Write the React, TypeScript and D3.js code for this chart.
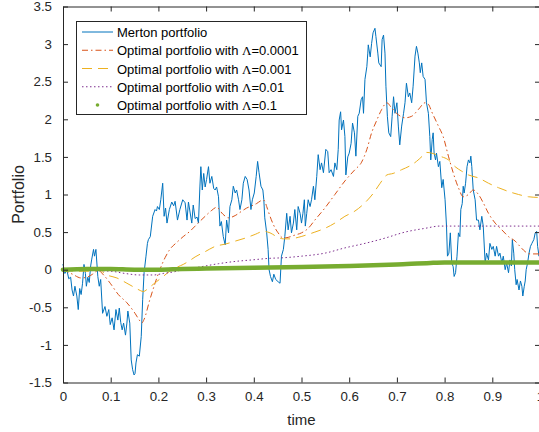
import { useEffect, useRef } from 'react';
import * as d3 from 'd3';

type Pt = [number, number];

// Merton portfolio (noisy path) as [time, value]
const merton: Pt[] = [
  [0.0, 0.07], [0.004, -0.05], [0.008, 0.0], [0.012, -0.12], [0.016, -0.1], [0.019, -0.27],
  [0.022, -0.35], [0.025, -0.22], [0.029, -0.35], [0.032, -0.53], [0.035, -0.25], [0.038, -0.33],
  [0.041, -0.18], [0.044, 0.07], [0.047, -0.05], [0.049, -0.22], [0.052, -0.1], [0.055, -0.17],
  [0.058, 0.05], [0.06, 0.13], [0.064, 0.27], [0.066, 0.18], [0.069, 0.27], [0.073, -0.09],
  [0.076, -0.22], [0.079, -0.13], [0.083, -0.58], [0.088, -0.49], [0.092, -0.62], [0.096, -0.53],
  [0.099, -0.73], [0.103, -0.64], [0.107, -0.8], [0.111, -0.53], [0.115, -0.67], [0.118, -0.51],
  [0.121, -0.7], [0.124, -0.8], [0.127, -0.71], [0.131, -0.87], [0.134, -0.71], [0.136, -0.55],
  [0.14, -0.71], [0.143, -1.2], [0.146, -1.33], [0.149, -1.4], [0.151, -1.38], [0.153, -1.24],
  [0.156, -1.13], [0.16, -1.15], [0.164, -0.89], [0.167, -0.4], [0.17, -0.04], [0.174, 0.18],
  [0.177, 0.35], [0.179, 0.4], [0.183, 0.44], [0.188, 0.71], [0.193, 0.8], [0.196, 0.78],
  [0.198, 0.84], [0.202, 0.8], [0.205, 0.93], [0.209, 1.15], [0.212, 0.71], [0.215, 0.82],
  [0.218, 0.62], [0.223, 0.8], [0.228, 0.9], [0.232, 0.85], [0.235, 0.91], [0.24, 0.66],
  [0.245, 0.8], [0.251, 0.93], [0.256, 0.89], [0.26, 0.66], [0.263, 0.9], [0.27, 0.62],
  [0.273, 0.86], [0.277, 0.68], [0.281, 0.7], [0.284, 0.62], [0.287, 1.1], [0.289, 1.37],
  [0.292, 1.06], [0.295, 1.28], [0.298, 1.1], [0.301, 1.2], [0.305, 1.37], [0.308, 1.15],
  [0.312, 1.24], [0.316, 1.08], [0.319, 1.06], [0.322, 1.1], [0.326, 0.97], [0.329, 0.58],
  [0.332, 0.64], [0.336, 0.44], [0.34, 0.33], [0.343, 0.66], [0.347, 0.49], [0.35, 0.84],
  [0.354, 0.93], [0.357, 1.11], [0.361, 1.02], [0.364, 1.06], [0.368, 0.93], [0.371, 0.8],
  [0.375, 0.93], [0.378, 1.15], [0.382, 1.24], [0.386, 1.2], [0.39, 1.06], [0.394, 0.8],
  [0.397, 0.93], [0.401, 1.02], [0.405, 1.24], [0.408, 1.44], [0.411, 1.29], [0.415, 1.11],
  [0.419, 1.06], [0.421, 0.93], [0.423, 0.69], [0.427, 0.49], [0.43, 0.27], [0.432, 0.0],
  [0.435, -0.09], [0.439, -0.16], [0.442, -0.06], [0.446, -0.13], [0.451, -0.16], [0.455, -0.18],
  [0.458, 0.18], [0.462, 0.27], [0.465, 0.44], [0.469, 0.75], [0.472, 0.53], [0.476, 0.71],
  [0.479, 0.49], [0.483, 0.62], [0.486, 0.8], [0.49, 0.53], [0.493, 0.84], [0.497, 0.75],
  [0.5, 0.62], [0.503, 0.75], [0.506, 0.93], [0.508, 0.58], [0.511, 0.75], [0.514, 0.93],
  [0.518, 0.84], [0.521, 0.93], [0.525, 1.11], [0.528, 0.93], [0.532, 1.24], [0.535, 1.53],
  [0.539, 1.33], [0.542, 1.42], [0.546, 1.29], [0.551, 1.6], [0.555, 1.57], [0.558, 1.29],
  [0.562, 1.33], [0.567, 1.24], [0.57, 1.42], [0.574, 1.33], [0.577, 1.6], [0.579, 1.99],
  [0.582, 2.1], [0.584, 1.86], [0.588, 1.99], [0.591, 1.77], [0.593, 1.26], [0.597, 1.5],
  [0.6, 1.55], [0.604, 1.68], [0.607, 1.95], [0.611, 1.82], [0.614, 1.51], [0.618, 2.04],
  [0.621, 2.08], [0.625, 2.26], [0.628, 2.3], [0.63, 2.08], [0.633, 2.53], [0.637, 2.7],
  [0.639, 2.88], [0.64, 2.99], [0.644, 2.83], [0.647, 3.01], [0.65, 3.15], [0.654, 3.21],
  [0.656, 3.1], [0.66, 2.88], [0.662, 2.75], [0.667, 2.7], [0.669, 3.06], [0.672, 3.12],
  [0.675, 2.88], [0.677, 2.44], [0.68, 2.04], [0.683, 1.82], [0.687, 1.77], [0.69, 2.04],
  [0.693, 2.3], [0.696, 2.08], [0.7, 2.22], [0.703, 1.91], [0.706, 1.66], [0.71, 1.91],
  [0.714, 2.08], [0.717, 2.22], [0.72, 2.48], [0.724, 2.3], [0.727, 2.35], [0.731, 2.22],
  [0.734, 2.44], [0.738, 2.84], [0.741, 2.97], [0.744, 2.88], [0.747, 2.75], [0.749, 2.62],
  [0.752, 2.75], [0.755, 2.57], [0.759, 2.53], [0.762, 2.22], [0.766, 2.08], [0.769, 1.77],
  [0.771, 1.46], [0.774, 1.73], [0.776, 1.82], [0.778, 1.55], [0.781, 1.46], [0.783, 1.55],
  [0.787, 1.37], [0.79, 1.44], [0.794, 1.09], [0.797, 1.2], [0.801, 0.93], [0.804, 0.58],
  [0.806, 0.18], [0.809, 0.22], [0.812, 0.49], [0.815, 0.09], [0.818, 0.04], [0.82, -0.09],
  [0.823, -0.04], [0.826, 0.18], [0.829, 0.49], [0.832, 0.44], [0.834, 0.8], [0.837, 0.88],
  [0.839, 1.11], [0.841, 1.02], [0.844, 1.15], [0.847, 1.37], [0.85, 1.46], [0.853, 1.42],
  [0.855, 1.51], [0.857, 1.37], [0.86, 1.06], [0.864, 0.93], [0.867, 0.66], [0.871, 0.66],
  [0.874, 0.53], [0.878, 0.71], [0.881, 0.58], [0.885, 0.09], [0.888, 0.22], [0.892, 0.13],
  [0.895, 0.35], [0.899, 0.27], [0.902, 0.31], [0.906, 0.18], [0.909, 0.31], [0.913, 0.18],
  [0.916, 0.22], [0.92, 0.09], [0.923, 0.18], [0.927, 0.0], [0.93, 0.09], [0.934, -0.04],
  [0.937, 0.13], [0.94, 0.05], [0.942, 0.4], [0.945, 0.22], [0.947, 0.0], [0.95, -0.2],
  [0.952, -0.13], [0.956, -0.27], [0.959, -0.15], [0.962, -0.22], [0.964, -0.35], [0.967, -0.22],
  [0.969, -0.15], [0.971, 0.0], [0.974, 0.09], [0.977, 0.22], [0.98, 0.31], [0.983, 0.35],
  [0.987, 0.4], [0.99, 0.49], [0.993, 0.51], [0.995, 0.31], [0.998, 0.18], [1.0, 0.35],
];

// Optimal portfolio, Lambda = 0.0001
const opt0001: Pt[] = [
  [0, 0], [0.02, -0.06], [0.038, -0.11], [0.05, -0.1], [0.062, -0.06], [0.074, -0.01],
  [0.085, -0.07], [0.099, -0.18], [0.116, -0.33], [0.134, -0.44], [0.151, -0.58], [0.16, -0.67],
  [0.165, -0.71], [0.17, -0.66], [0.182, -0.4], [0.193, -0.18], [0.203, 0.0], [0.214, 0.16],
  [0.224, 0.27], [0.238, 0.36], [0.252, 0.44], [0.266, 0.51], [0.277, 0.58], [0.298, 0.71],
  [0.312, 0.79], [0.322, 0.83], [0.335, 0.74], [0.347, 0.69], [0.361, 0.72], [0.375, 0.78],
  [0.385, 0.82], [0.396, 0.85], [0.406, 0.88], [0.417, 0.92], [0.422, 0.92], [0.427, 0.84],
  [0.434, 0.71], [0.441, 0.6], [0.451, 0.49], [0.462, 0.42], [0.472, 0.43], [0.486, 0.46],
  [0.5, 0.49], [0.514, 0.55], [0.528, 0.66], [0.549, 0.82], [0.57, 1.0], [0.591, 1.18],
  [0.612, 1.33], [0.626, 1.43], [0.637, 1.6], [0.647, 1.82], [0.658, 1.99], [0.668, 2.13],
  [0.679, 2.22], [0.689, 2.15], [0.703, 2.06], [0.717, 2.02], [0.731, 2.04], [0.745, 2.13],
  [0.759, 2.22], [0.766, 2.2], [0.773, 2.1], [0.787, 1.91], [0.797, 1.77], [0.808, 1.51],
  [0.818, 1.29], [0.829, 1.09], [0.839, 0.97], [0.85, 1.0], [0.86, 1.06], [0.871, 1.0],
  [0.881, 0.89], [0.892, 0.75], [0.906, 0.62], [0.92, 0.53], [0.934, 0.44], [0.948, 0.38],
  [0.958, 0.31], [0.969, 0.24], [0.979, 0.21], [1.0, 0.21],
];

// Optimal portfolio, Lambda = 0.001
const opt001: Pt[] = [
  [0, 0], [0.03, -0.02], [0.057, -0.02], [0.074, 0.0], [0.092, -0.07], [0.113, -0.11],
  [0.134, -0.18], [0.151, -0.24], [0.163, -0.28], [0.168, -0.29], [0.182, -0.23], [0.196, -0.16],
  [0.21, -0.09], [0.224, -0.02], [0.238, 0.03], [0.252, 0.07], [0.263, 0.11], [0.277, 0.17],
  [0.298, 0.24], [0.319, 0.31], [0.34, 0.34], [0.361, 0.38], [0.382, 0.42], [0.403, 0.47],
  [0.42, 0.51], [0.434, 0.49], [0.448, 0.44], [0.462, 0.41], [0.476, 0.41], [0.493, 0.43],
  [0.514, 0.47], [0.528, 0.5], [0.549, 0.55], [0.57, 0.62], [0.591, 0.71], [0.612, 0.78],
  [0.633, 0.89], [0.651, 1.02], [0.665, 1.15], [0.679, 1.26], [0.692, 1.28], [0.71, 1.33],
  [0.727, 1.38], [0.741, 1.44], [0.755, 1.52], [0.762, 1.56], [0.773, 1.55], [0.79, 1.51],
  [0.808, 1.46], [0.822, 1.37], [0.836, 1.31], [0.85, 1.26], [0.871, 1.22], [0.892, 1.15],
  [0.913, 1.09], [0.934, 1.04], [0.955, 1.0], [0.976, 0.97], [1.0, 0.96],
];

// Optimal portfolio, Lambda = 0.01
const opt01: Pt[] = [
  [0, 0], [0.05, -0.01], [0.1, -0.02], [0.13, -0.05], [0.16, -0.07], [0.19, -0.07],
  [0.21, -0.05], [0.231, -0.03], [0.252, 0.0], [0.29, 0.04], [0.326, 0.08], [0.361, 0.11],
  [0.396, 0.13], [0.43, 0.15], [0.465, 0.16], [0.5, 0.18], [0.549, 0.22], [0.591, 0.29],
  [0.633, 0.35], [0.675, 0.42], [0.717, 0.5], [0.759, 0.55], [0.79, 0.58], [0.85, 0.58],
  [0.9, 0.58], [1.0, 0.58],
];

// Optimal portfolio, Lambda = 0.1
const opt1: Pt[] = [
  [0, 0.0], [0.05, 0.01], [0.1, 0.01], [0.15, 0.0], [0.2, 0.0], [0.25, 0.01], [0.3, 0.015],
  [0.4, 0.025], [0.5, 0.035], [0.6, 0.05], [0.7, 0.07], [0.77, 0.09], [0.8, 0.095],
  [0.9, 0.097], [1.0, 0.097],
];

const legendLabels = [
  'Merton portfolio',
  'Optimal portfolio with Λ=0.0001',
  'Optimal portfolio with Λ=0.001',
  'Optimal portfolio with Λ=0.01',
  'Optimal portfolio with Λ=0.1',
];

const xTicks = [0, 0.1, 0.2, 0.3, 0.4, 0.5, 0.6, 0.7, 0.8, 0.9, 1];
const yTicks = [-1.5, -1, -0.5, 0, 0.5, 1, 1.5, 2, 2.5, 3, 3.5];

const colors = ['#0072BD', '#D95319', '#EDB120', '#7E2F8E', '#77AC30'];
const dashes = [null, '6,3,1.5,3', '10,6', '1.5,2.5', null];
const FONT = '"Liberation Sans", Arial, Helvetica, sans-serif';
const INK = '#262626';

export default function App() {
  const svgRef = useRef<SVGSVGElement>(null);

  useEffect(() => {
    if (!svgRef.current) return;
    const width = 539;
    const height = 432;
    const margin = { left: 63, right: 540, top: 6.5, bottom: 382.5 };

    d3.select(svgRef.current).selectAll('*').remove();
    const svg = d3.select(svgRef.current).attr('width', width).attr('height', height);

    const x = d3.scaleLinear().domain([0, 1]).range([margin.left, margin.right]);
    const y = d3.scaleLinear().domain([-1.5, 3.5]).range([margin.bottom, margin.top]);

    svg.append('rect').attr('width', width).attr('height', height).attr('fill', '#fff');

    // series
    const rough = d3.line<Pt>().x((d) => x(d[0])).y((d) => y(d[1]));
    const smooth = d3.line<Pt>().x((d) => x(d[0])).y((d) => y(d[1])).curve(d3.curveMonotoneX);

    const series = [merton, opt0001, opt001, opt01, opt1];
    series.forEach((s, i) => {
      const p = svg
        .append('path')
        .attr('d', (i === 0 ? rough : smooth)(s))
        .attr('fill', 'none')
        .attr('stroke', colors[i])
        .attr('stroke-width', i === 4 ? 4.5 : 1)
        .attr('stroke-linecap', 'round')
        .attr('stroke-linejoin', 'round');
      if (dashes[i]) p.attr('stroke-dasharray', dashes[i] as string).attr('stroke-linecap', 'butt');
    });

    // axes (ticks inside, box)
    const styleAxis = (g: d3.Selection<SVGGElement, unknown, null, undefined>) => {
      g.select('.domain').attr('stroke', INK);
      g.selectAll('.tick line').attr('stroke', INK);
      g.selectAll('.tick text').attr('fill', INK).style('font-family', FONT).style('font-size', '13.3px');
    };

    svg
      .append('g')
      .attr('transform', `translate(0,${margin.bottom})`)
      .call(d3.axisBottom(x).tickValues(xTicks).tickSizeInner(-5).tickSizeOuter(0).tickPadding(9.5).tickFormat((d) => String(d)))
      .call(styleAxis);
    svg
      .append('g')
      .attr('transform', `translate(0,${margin.top})`)
      .call(d3.axisTop(x).tickValues(xTicks).tickSizeInner(-5).tickSizeOuter(0).tickFormat(() => ''))
      .call(styleAxis);
    svg
      .append('g')
      .attr('transform', `translate(${margin.left},0)`)
      .call(d3.axisLeft(y).tickValues(yTicks).tickSizeInner(-5).tickSizeOuter(0).tickPadding(11).tickFormat((d) => String(d)))
      .call(styleAxis);
    svg
      .append('g')
      .attr('transform', `translate(${margin.right},0)`)
      .call(d3.axisRight(y).tickValues(yTicks).tickSizeInner(-5).tickSizeOuter(0).tickFormat(() => ''))
      .call(styleAxis);

    // axis labels
    svg
      .append('text')
      .attr('x', (margin.left + margin.right) / 2)
      .attr('y', 425)
      .attr('text-anchor', 'middle')
      .style('font-family', FONT)
      .style('font-size', '15px')
      .attr('fill', INK)
      .text('time');
    svg
      .append('text')
      .attr('transform', `translate(24,${(margin.top + margin.bottom) / 2}) rotate(-90)`)
      .attr('text-anchor', 'middle')
      .style('font-family', FONT)
      .style('font-size', '16px')
      .attr('fill', INK)
      .text('Portfolio');

    // legend
    const lg = svg.append('g');
    lg.append('rect')
      .attr('x', 76.5)
      .attr('y', 21.5)
      .attr('width', 230)
      .attr('height', 93)
      .attr('fill', '#fff')
      .attr('stroke', INK)
      .attr('stroke-width', 1);
    legendLabels.forEach((label, i) => {
      const ry = 32 + i * 18.25;
      if (i === 4) {
        lg.append('circle').attr('cx', 97.5).attr('cy', ry).attr('r', 1.8).attr('fill', colors[i]);
      } else {
        const l = lg
          .append('line')
          .attr('x1', 82)
          .attr('x2', 113)
          .attr('y1', ry)
          .attr('y2', ry)
          .attr('stroke', colors[i])
          .attr('stroke-width', 1);
        if (dashes[i]) l.attr('stroke-dasharray', dashes[i] as string);
      }
      const t = lg
        .append('text')
        .attr('x', 117)
        .attr('y', ry + 5)
        .style('font-family', FONT)
        .style('font-size', '13px')
        .attr('fill', '#000');
      const parts = label.split('Λ');
      t.append('tspan').text(parts[0]);
      if (parts.length > 1) {
        t.append('tspan').style('font-family', '"Liberation Serif", "DejaVu Serif", serif').text('Λ');
        t.append('tspan').text(parts[1]);
      }
    });
  }, []);

  return (
    <svg
      ref={svgRef}
      style={{ position: 'absolute', left: 0, top: 0, display: 'block' }}
    />
  );
}
